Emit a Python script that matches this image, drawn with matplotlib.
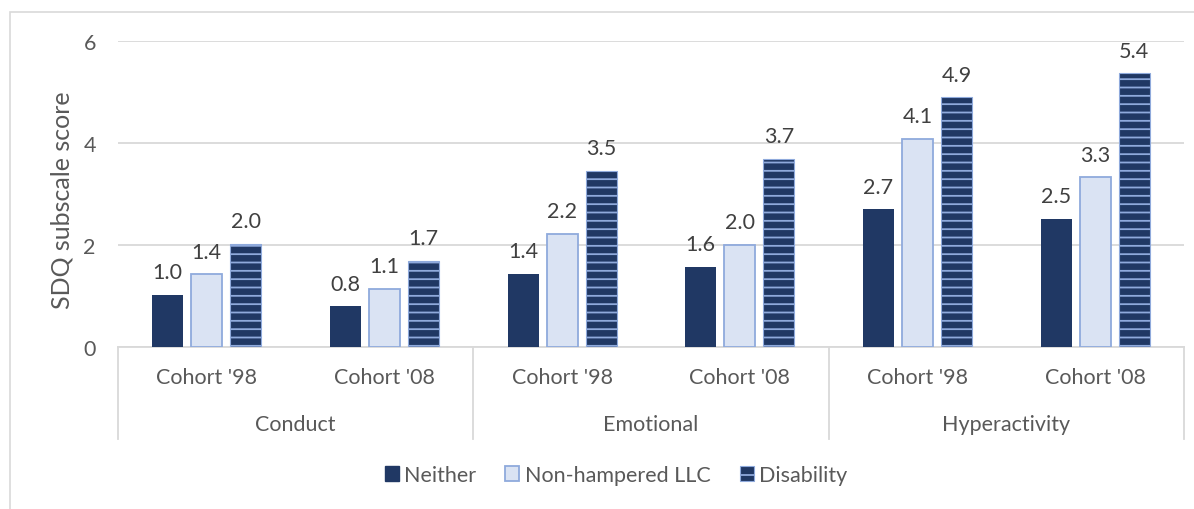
import matplotlib
matplotlib.use("Agg")
import matplotlib.pyplot as plt
from matplotlib.patches import Patch, Rectangle
from matplotlib.lines import Line2D
import matplotlib.transforms as mtransforms
import numpy as np

plt.rcParams['font.family'] = ['Lato', 'DejaVu Sans']
plt.rcParams['hatch.linewidth'] = 1.3

groups = ["Conduct", "Emotional", "Hyperactivity"]
cohorts = ["Cohort '98", "Cohort '08"]
series = ["Neither", "Non-hampered LLC", "Disability"]
neither = [1.02, 0.80, 1.44, 1.57, 2.70, 2.51]
llc = [1.43, 1.14, 2.22, 2.00, 4.08, 3.33]
disability = [2.02, 1.69, 3.46, 3.69, 4.90, 5.37]
yticks = [0, 2, 4, 6]

navy = '#203864'
light = '#DAE3F3'
lightedge = '#8FAADC'
txt = '#404040'
gtxt = '#595959'
grid = '#D9D9D9'

fig = plt.figure(figsize=(11.94, 5.10), dpi=100)
# outer frame
fig.patches.append(Rectangle((10/1194, -0.1), 1.2, (510-13)/510 + 0.1, transform=fig.transFigure,
                             fill=False, edgecolor=grid, linewidth=1.2))
ax = fig.add_axes([118/1194, (510-348)/510, (1184-118)/1194, 306/510])

n = len(neither)
x = np.arange(n)
step = 0.22
w = 0.175
ax.bar(x - step, neither, w, color=navy, zorder=3)
ax.bar(x, llc, w, facecolor=light, edgecolor=lightedge, linewidth=1.3, zorder=3)
ax.bar(x + step, disability, w, facecolor=navy, edgecolor=lightedge, linewidth=0.8, hatch='--', zorder=3)

fs = 15.5
for vals, off in [(neither, -step), (llc, 0), (disability, step)]:
    for xi, v in zip(x, vals):
        ax.annotate(f"{v:.1f}", (xi + off, v), xytext=(0, 9), textcoords='offset points',
                    ha='center', va='bottom', fontsize=fs, color=txt)

ax.set_xlim(-0.5, n - 0.5)
ax.set_ylim(0, 6)
ax.set_yticks(yticks)
ax.set_yticklabels([str(t) for t in yticks], fontsize=fs, color=gtxt)
ax.tick_params(axis='y', length=0, pad=16)
ax.tick_params(axis='x', length=0, labelbottom=False)
ax.yaxis.grid(True, color=grid, linewidth=1.3, zorder=0)
for s in ['top', 'right', 'left']:
    ax.spines[s].set_visible(False)
ax.spines['bottom'].set_color(grid)
ax.spines['bottom'].set_linewidth(1.3)
fig.text(62/1194, (510-200)/510, "SDQ subscale score", rotation=90, ha='center', va='center',
         fontsize=18, color=gtxt)

# category labels below
trans = mtransforms.blended_transform_factory(ax.transData, fig.transFigure)
for i in range(n):
    ax.text(x[i], (510-378)/510, cohorts[i % 2], transform=trans, ha='center', va='center',
            fontsize=fs, color=gtxt)
for g, name in enumerate(groups):
    ax.text(2*g + 0.5, (510-425)/510, name, transform=trans, ha='center', va='center',
            fontsize=fs, color=gtxt)
for b in [-0.5, 1.5, 3.5, 5.5]:
    ax.add_line(Line2D([b, b], [(510-348)/510, (510-440)/510], transform=trans, color=grid,
                       linewidth=1.3, clip_on=False))

handles = [Patch(facecolor=navy, edgecolor=navy),
           Patch(facecolor=light, edgecolor=lightedge, linewidth=1.3),
           Patch(facecolor=navy, edgecolor=lightedge, hatch='-', linewidth=0.8)]
fig.legend(handles, series, loc='center', bbox_to_anchor=(616/1194, (510-476)/510), ncol=3,
           frameon=False, fontsize=fs, handlelength=0.65, handleheight=0.65, handletextpad=0.25,
           columnspacing=1.35, labelcolor=gtxt)

fig.savefig("out.png", dpi=100)
